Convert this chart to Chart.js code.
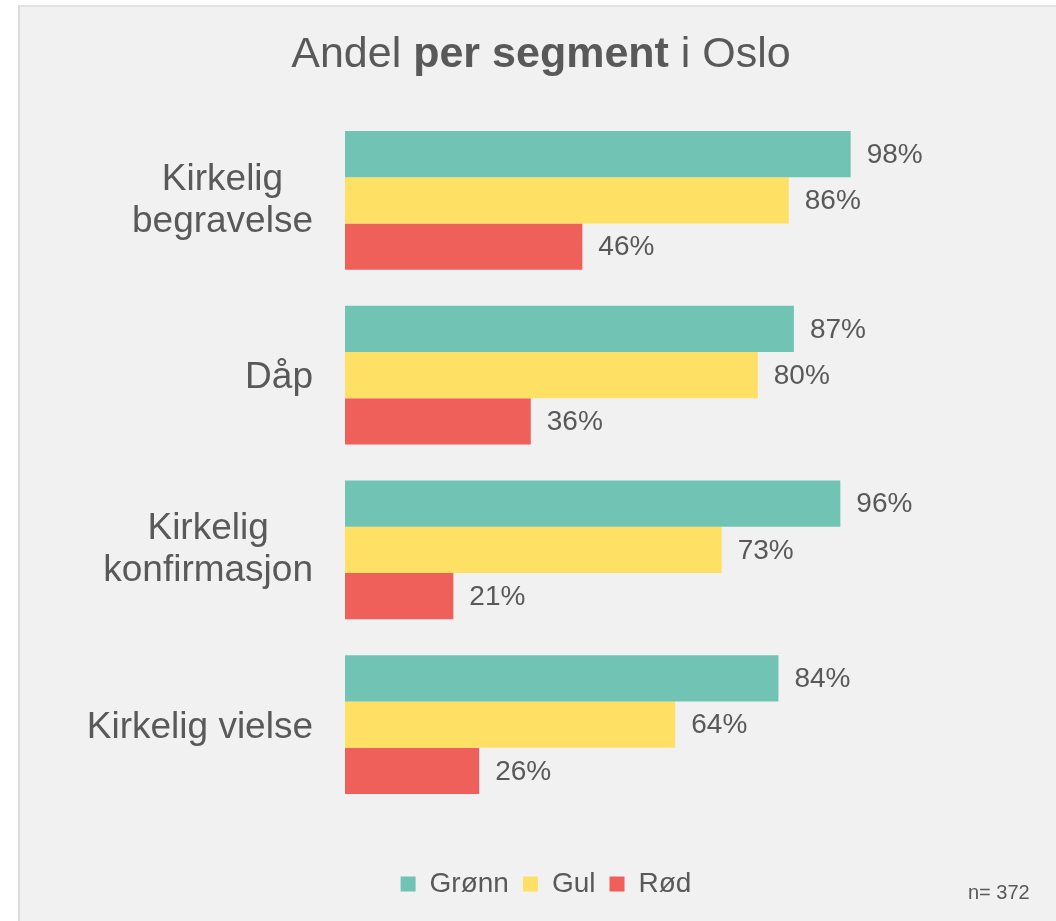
<!DOCTYPE html>
<html>
<head>
<meta charset="utf-8">
<script src="https://cdn.jsdelivr.net/npm/chart.js@4"></script>
<style>
  html, body { margin: 0; padding: 0; background: #ffffff; overflow: hidden; }
  #panel { position: absolute; left: 18px; top: 5px; width: 1100px; height: 1000px;
           background: #f1f1f1; border-left: 2px solid #dcdcdc; border-top: 2px solid #e2e2e2; }
  #c { position: absolute; left: 0; top: 0; }
</style>
</head>
<body>
<div id="panel"></div>
<canvas id="c" width="1056" height="921"></canvas>
<script>
const categories = [["Kirkelig", "begravelse"], ["Dåp"], ["Kirkelig", "konfirmasjon"], ["Kirkelig vielse"]];
const seriesNames = ["Grønn", "Gul", "Rød"];
const gronn = [98, 87, 96, 84];
const gul = [86, 80, 73, 64];
const rod = [46, 36, 21, 26];
const seriesColors = ["#71c4b4", "#fde064", "#f0605a"];
const titleParts = [["Andel ", false], ["per segment", true], [" i Oslo", false]];
const noteText = "n= 372";

const FONT = "'Liberation Sans', Arial, Helvetica, sans-serif";
const TEXT = "#595959";
Chart.defaults.font.family = FONT;
Chart.defaults.color = TEXT;

const extras = {
  id: 'extras',
  afterLayout(chart) {
    const lg = chart.legend;
    if (lg) { lg.left += 106.5; lg.right += 106.5; }
  },
  afterDatasetsDraw(chart) {
    const ctx = chart.ctx;
    ctx.save();
    ctx.fillStyle = TEXT;
    ctx.font = "28px " + FONT;
    ctx.textAlign = 'left';
    ctx.textBaseline = 'middle';
    chart.data.datasets.forEach((ds, di) => {
      const meta = chart.getDatasetMeta(di);
      meta.data.forEach((bar, i) => {
        ctx.fillText(ds.data[i] + '%', bar.x + 16, bar.y + 1);
      });
    });
    ctx.restore();
  },
  afterDraw(chart) {
    const ctx = chart.ctx;
    ctx.save();
    ctx.fillStyle = TEXT;
    ctx.textBaseline = 'alphabetic';
    // category labels: block right-aligned at the axis, lines centred within the block
    const yScale = chart.scales.y;
    const labSize = 37, lh = 42;
    const rightEdge = yScale.right - 32;
    ctx.font = labSize + 'px ' + FONT;
    ctx.textAlign = 'center';
    chart.data.labels.forEach((lines, i) => {
      const cy = yScale.getPixelForTick(i);
      const n = lines.length;
      const blockW = Math.max(...lines.map(l => ctx.measureText(l).width));
      const cx = rightEdge - blockW / 2;
      lines.forEach((l, k) => {
        ctx.fillText(l, cx, cy + 13.3 - (n - 1) * 24 + k * lh);
      });
    });
    // title with mixed weight
    const size = 43;
    let total = 0;
    const widths = titleParts.map(([t, b]) => {
      ctx.font = (b ? 'bold ' : '') + size + 'px ' + FONT;
      const w = ctx.measureText(t).width;
      total += w;
      return w;
    });
    let x = 541 - total / 2;
    ctx.textAlign = 'left';
    titleParts.forEach(([t, b], i) => {
      ctx.font = (b ? 'bold ' : '') + size + 'px ' + FONT;
      ctx.fillText(t, x, 67);
      x += widths[i];
    });
    ctx.font = '20px ' + FONT;
    ctx.fillText(noteText, 968, 899);
    ctx.restore();
  }
};

new Chart(document.getElementById('c'), {
  type: 'bar',
  data: {
    labels: categories,
    datasets: [
      { label: seriesNames[0], data: gronn, backgroundColor: seriesColors[0], borderWidth: 0 },
      { label: seriesNames[1], data: gul, backgroundColor: seriesColors[1], borderWidth: 0 },
      { label: seriesNames[2], data: rod, backgroundColor: seriesColors[2], borderWidth: 0 }
    ]
  },
  options: {
    indexAxis: 'y',
    responsive: false,
    animation: false,
    devicePixelRatio: 1,
    categoryPercentage: 0.794,
    barPercentage: 1.0,
    layout: { padding: { top: 113, left: 18, right: 195, bottom: 13 } },
    scales: {
      x: {
        min: 0, max: 100,
        display: true,
        grid: { display: false, drawTicks: false },
        border: { display: false },
        ticks: { display: false },
        afterFit(scale) { scale.height = 44; }
      },
      y: {
        grid: { display: false, drawTicks: false },
        border: { display: false },
        ticks: { display: false },
        afterFit(scale) { scale.width = 327; }
      }
    },
    plugins: {
      title: { display: false },
      tooltip: { enabled: false },
      legend: {
        display: true,
        position: 'bottom',
        labels: {
          boxWidth: 15, boxHeight: 15, padding: 14,
          color: TEXT, font: { size: 28 }
        }
      }
    }
  },
  plugins: [extras]
});
</script>
</body>
</html>
